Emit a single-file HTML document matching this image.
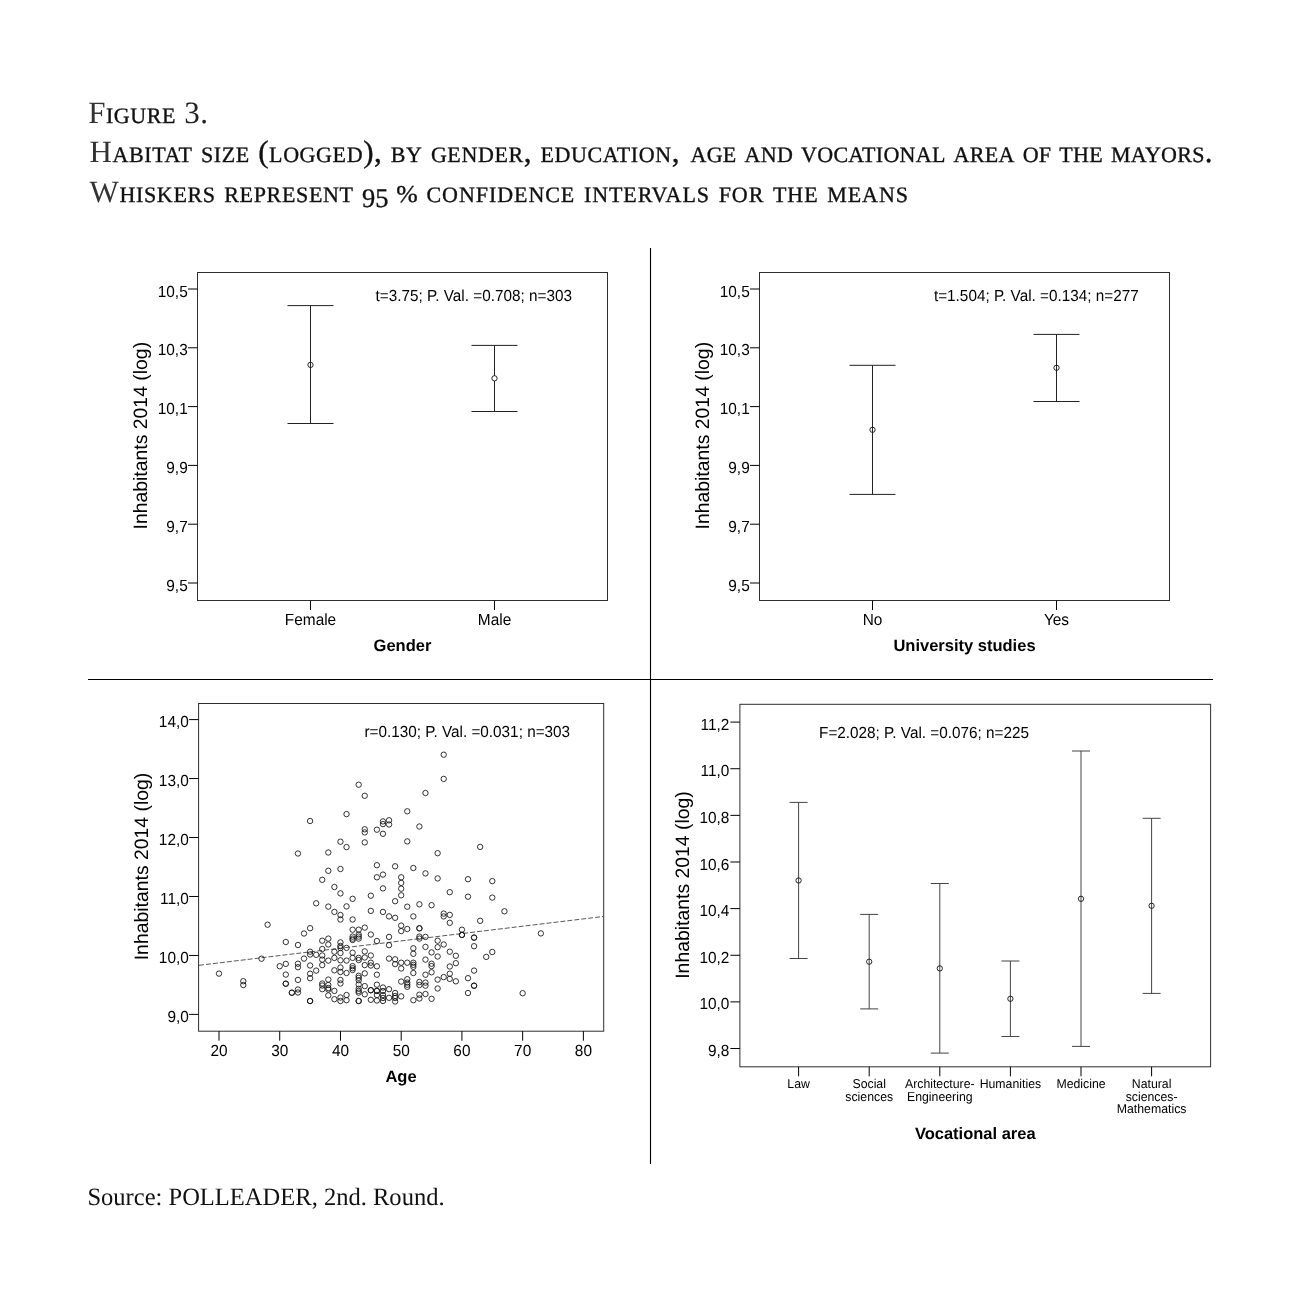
<!DOCTYPE html>
<html lang="en"><head><meta charset="utf-8"><title>Figure 3. Habitat size by gender, education, age and vocational area of the mayors</title>
<style>
html,body{margin:0;padding:0;background:#fff;}
body{width:1302px;height:1309px;overflow:hidden;position:relative;}
svg{position:absolute;left:0;top:0;display:block;text-rendering:geometricPrecision;}
</style></head><body>
<svg width="1302" height="1309" viewBox="0 0 1302 1309">
<rect width="1302" height="1309" fill="#fff"/>
<g font-family="'Liberation Serif', 'Times New Roman', serif" fill="#111" stroke="#111" stroke-width="0.35" style="font-variant: small-caps">
<text x="88.2" y="123" font-size="31" textLength="119.8" lengthAdjust="spacing"><tspan stroke-width="0" fill="#333">F</tspan>igure <tspan stroke-width="0" fill="#222">3.</tspan></text>
<text x="89.5" y="162" font-size="31" textLength="590" lengthAdjust="spacing"><tspan stroke-width="0" fill="#333">H</tspan>abitat size (logged), by gender, education,</text>
<text x="690.5" y="162" font-size="31" textLength="522" lengthAdjust="spacing">age and vocational area of the mayors.</text>
<text x="89.5" y="201.5" font-size="31" textLength="263.5" lengthAdjust="spacing"><tspan stroke-width="0" fill="#333">W</tspan>hiskers represent</text>
<text x="362" y="207" font-size="27" textLength="26.5" lengthAdjust="spacingAndGlyphs">95</text>
<text x="396.3" y="201.5" font-size="24" textLength="21.5" lengthAdjust="spacingAndGlyphs">%</text>
<text x="426.5" y="201.5" font-size="31" textLength="481.5" lengthAdjust="spacing">confidence intervals for the means</text>
</g>
<text x="87.4" y="1205" font-size="25" font-family="'Liberation Serif', 'Times New Roman', serif" fill="#111" textLength="357.2" lengthAdjust="spacingAndGlyphs">Source: POLLEADER, 2nd. Round.</text>
<line x1="650.5" y1="248" x2="650.5" y2="1164" stroke="#000" stroke-width="1.1" />
<line x1="88" y1="679.5" x2="1213" y2="679.5" stroke="#000" stroke-width="1.1" />
<rect x="197.5" y="272.5" width="410" height="328" fill="none" stroke="#2e2e2e" stroke-width="1"/>
<line x1="188" y1="289" x2="197.5" y2="289" stroke="#000" stroke-width="1" />
<text transform="translate(187.7,296.6) scale(1,1.05)" font-size="15.4" text-anchor="end" font-family="'Liberation Sans', Arial, Helvetica, sans-serif" >10,5</text>
<line x1="188" y1="347.8" x2="197.5" y2="347.8" stroke="#000" stroke-width="1" />
<text transform="translate(187.7,355.4) scale(1,1.05)" font-size="15.4" text-anchor="end" font-family="'Liberation Sans', Arial, Helvetica, sans-serif" >10,3</text>
<line x1="188" y1="406.6" x2="197.5" y2="406.6" stroke="#000" stroke-width="1" />
<text transform="translate(187.7,414.2) scale(1,1.05)" font-size="15.4" text-anchor="end" font-family="'Liberation Sans', Arial, Helvetica, sans-serif" >10,1</text>
<line x1="188" y1="465.4" x2="197.5" y2="465.4" stroke="#000" stroke-width="1" />
<text transform="translate(187.7,473) scale(1,1.05)" font-size="15.4" text-anchor="end" font-family="'Liberation Sans', Arial, Helvetica, sans-serif" >9,9</text>
<line x1="188" y1="524.2" x2="197.5" y2="524.2" stroke="#000" stroke-width="1" />
<text transform="translate(187.7,531.8) scale(1,1.05)" font-size="15.4" text-anchor="end" font-family="'Liberation Sans', Arial, Helvetica, sans-serif" >9,7</text>
<line x1="188" y1="583" x2="197.5" y2="583" stroke="#000" stroke-width="1" />
<text transform="translate(187.7,590.6) scale(1,1.05)" font-size="15.4" text-anchor="end" font-family="'Liberation Sans', Arial, Helvetica, sans-serif" >9,5</text>
<line x1="310.5" y1="305.6" x2="310.5" y2="423.5" stroke="#222" stroke-width="1" />
<line x1="287.5" y1="305.6" x2="333.5" y2="305.6" stroke="#222" stroke-width="1" />
<line x1="287.5" y1="423.5" x2="333.5" y2="423.5" stroke="#222" stroke-width="1" />
<circle cx="310.5" cy="364.9" r="2.65" fill="none" stroke="#111" stroke-width="0.9"/>
<line x1="494.5" y1="345.4" x2="494.5" y2="411.5" stroke="#222" stroke-width="1" />
<line x1="471.5" y1="345.4" x2="517.5" y2="345.4" stroke="#222" stroke-width="1" />
<line x1="471.5" y1="411.5" x2="517.5" y2="411.5" stroke="#222" stroke-width="1" />
<circle cx="494.5" cy="378.3" r="2.65" fill="#fff" stroke="#111" stroke-width="0.9"/>
<line x1="310.5" y1="600.5" x2="310.5" y2="610" stroke="#000" stroke-width="1" />
<line x1="494.5" y1="600.5" x2="494.5" y2="610" stroke="#000" stroke-width="1" />
<text transform="translate(310.5,625) scale(1,1.05)" font-size="15.4" text-anchor="middle" font-family="'Liberation Sans', Arial, Helvetica, sans-serif" >Female</text>
<text transform="translate(494.5,625) scale(1,1.05)" font-size="15.4" text-anchor="middle" font-family="'Liberation Sans', Arial, Helvetica, sans-serif" >Male</text>
<text x="402.5" y="651.2" font-size="16.5" text-anchor="middle" font-weight="bold" font-family="'Liberation Sans', Arial, Helvetica, sans-serif" >Gender</text>
<text transform="translate(473.75,301.3) scale(1,1.05)" font-size="15.3" text-anchor="middle" font-family="'Liberation Sans', Arial, Helvetica, sans-serif" >t=3.75; P. Val. =0.708; n=303</text>
<text transform="translate(146.8,435.7) rotate(-90)" x="0" y="0" font-size="19.4" text-anchor="middle" font-family="'Liberation Sans', Arial, Helvetica, sans-serif">Inhabitants 2014 (log)</text>
<rect x="759.5" y="272.5" width="410" height="328" fill="none" stroke="#2e2e2e" stroke-width="1"/>
<line x1="750" y1="289" x2="759.5" y2="289" stroke="#000" stroke-width="1" />
<text transform="translate(749.7,296.6) scale(1,1.05)" font-size="15.4" text-anchor="end" font-family="'Liberation Sans', Arial, Helvetica, sans-serif" >10,5</text>
<line x1="750" y1="347.8" x2="759.5" y2="347.8" stroke="#000" stroke-width="1" />
<text transform="translate(749.7,355.4) scale(1,1.05)" font-size="15.4" text-anchor="end" font-family="'Liberation Sans', Arial, Helvetica, sans-serif" >10,3</text>
<line x1="750" y1="406.6" x2="759.5" y2="406.6" stroke="#000" stroke-width="1" />
<text transform="translate(749.7,414.2) scale(1,1.05)" font-size="15.4" text-anchor="end" font-family="'Liberation Sans', Arial, Helvetica, sans-serif" >10,1</text>
<line x1="750" y1="465.4" x2="759.5" y2="465.4" stroke="#000" stroke-width="1" />
<text transform="translate(749.7,473) scale(1,1.05)" font-size="15.4" text-anchor="end" font-family="'Liberation Sans', Arial, Helvetica, sans-serif" >9,9</text>
<line x1="750" y1="524.2" x2="759.5" y2="524.2" stroke="#000" stroke-width="1" />
<text transform="translate(749.7,531.8) scale(1,1.05)" font-size="15.4" text-anchor="end" font-family="'Liberation Sans', Arial, Helvetica, sans-serif" >9,7</text>
<line x1="750" y1="583" x2="759.5" y2="583" stroke="#000" stroke-width="1" />
<text transform="translate(749.7,590.6) scale(1,1.05)" font-size="15.4" text-anchor="end" font-family="'Liberation Sans', Arial, Helvetica, sans-serif" >9,5</text>
<line x1="872.5" y1="365.3" x2="872.5" y2="494.4" stroke="#222" stroke-width="1" />
<line x1="849.5" y1="365.3" x2="895.5" y2="365.3" stroke="#222" stroke-width="1" />
<line x1="849.5" y1="494.4" x2="895.5" y2="494.4" stroke="#222" stroke-width="1" />
<circle cx="872.5" cy="429.8" r="2.65" fill="none" stroke="#111" stroke-width="0.9"/>
<line x1="1056.5" y1="334.4" x2="1056.5" y2="401.5" stroke="#222" stroke-width="1" />
<line x1="1033.5" y1="334.4" x2="1079.5" y2="334.4" stroke="#222" stroke-width="1" />
<line x1="1033.5" y1="401.5" x2="1079.5" y2="401.5" stroke="#222" stroke-width="1" />
<circle cx="1056.5" cy="367.8" r="2.65" fill="none" stroke="#111" stroke-width="0.9"/>
<line x1="872.5" y1="600.5" x2="872.5" y2="610" stroke="#000" stroke-width="1" />
<line x1="1056.5" y1="600.5" x2="1056.5" y2="610" stroke="#000" stroke-width="1" />
<text transform="translate(872.5,625) scale(1,1.05)" font-size="15.4" text-anchor="middle" font-family="'Liberation Sans', Arial, Helvetica, sans-serif" >No</text>
<text transform="translate(1056.5,625) scale(1,1.05)" font-size="15.4" text-anchor="middle" font-family="'Liberation Sans', Arial, Helvetica, sans-serif" >Yes</text>
<text x="964.5" y="651.2" font-size="16.5" text-anchor="middle" font-weight="bold" font-family="'Liberation Sans', Arial, Helvetica, sans-serif" >University studies</text>
<text transform="translate(1036.35,301.3) scale(1,1.05)" font-size="15.3" text-anchor="middle" font-family="'Liberation Sans', Arial, Helvetica, sans-serif" >t=1.504; P. Val. =0.134; n=277</text>
<text transform="translate(708.8,435.7) rotate(-90)" x="0" y="0" font-size="19.4" text-anchor="middle" font-family="'Liberation Sans', Arial, Helvetica, sans-serif">Inhabitants 2014 (log)</text>
<rect x="198.6" y="703.5" width="405.1" height="327.7" fill="none" stroke="#2e2e2e" stroke-width="1"/>
<line x1="189.1" y1="719.6" x2="198.6" y2="719.6" stroke="#000" stroke-width="1" />
<text transform="translate(188.8,727.2) scale(1,1.05)" font-size="15.4" text-anchor="end" font-family="'Liberation Sans', Arial, Helvetica, sans-serif" >14,0</text>
<line x1="189.1" y1="778.56" x2="198.6" y2="778.56" stroke="#000" stroke-width="1" />
<text transform="translate(188.8,786.16) scale(1,1.05)" font-size="15.4" text-anchor="end" font-family="'Liberation Sans', Arial, Helvetica, sans-serif" >13,0</text>
<line x1="189.1" y1="837.52" x2="198.6" y2="837.52" stroke="#000" stroke-width="1" />
<text transform="translate(188.8,845.12) scale(1,1.05)" font-size="15.4" text-anchor="end" font-family="'Liberation Sans', Arial, Helvetica, sans-serif" >12,0</text>
<line x1="189.1" y1="896.48" x2="198.6" y2="896.48" stroke="#000" stroke-width="1" />
<text transform="translate(188.8,904.08) scale(1,1.05)" font-size="15.4" text-anchor="end" font-family="'Liberation Sans', Arial, Helvetica, sans-serif" >11,0</text>
<line x1="189.1" y1="955.44" x2="198.6" y2="955.44" stroke="#000" stroke-width="1" />
<text transform="translate(188.8,963.04) scale(1,1.05)" font-size="15.4" text-anchor="end" font-family="'Liberation Sans', Arial, Helvetica, sans-serif" >10,0</text>
<line x1="189.1" y1="1014.4" x2="198.6" y2="1014.4" stroke="#000" stroke-width="1" />
<text transform="translate(188.8,1022) scale(1,1.05)" font-size="15.4" text-anchor="end" font-family="'Liberation Sans', Arial, Helvetica, sans-serif" >9,0</text>
<line x1="219" y1="1031.2" x2="219" y2="1040.7" stroke="#000" stroke-width="1" />
<line x1="279.73" y1="1031.2" x2="279.73" y2="1040.7" stroke="#000" stroke-width="1" />
<line x1="340.46" y1="1031.2" x2="340.46" y2="1040.7" stroke="#000" stroke-width="1" />
<line x1="401.19" y1="1031.2" x2="401.19" y2="1040.7" stroke="#000" stroke-width="1" />
<line x1="461.92" y1="1031.2" x2="461.92" y2="1040.7" stroke="#000" stroke-width="1" />
<line x1="522.65" y1="1031.2" x2="522.65" y2="1040.7" stroke="#000" stroke-width="1" />
<line x1="583.38" y1="1031.2" x2="583.38" y2="1040.7" stroke="#000" stroke-width="1" />
<text transform="translate(219,1055.7) scale(1,1.05)" font-size="15.4" text-anchor="middle" font-family="'Liberation Sans', Arial, Helvetica, sans-serif" >20</text>
<text transform="translate(279.73,1055.7) scale(1,1.05)" font-size="15.4" text-anchor="middle" font-family="'Liberation Sans', Arial, Helvetica, sans-serif" >30</text>
<text transform="translate(340.46,1055.7) scale(1,1.05)" font-size="15.4" text-anchor="middle" font-family="'Liberation Sans', Arial, Helvetica, sans-serif" >40</text>
<text transform="translate(401.19,1055.7) scale(1,1.05)" font-size="15.4" text-anchor="middle" font-family="'Liberation Sans', Arial, Helvetica, sans-serif" >50</text>
<text transform="translate(461.92,1055.7) scale(1,1.05)" font-size="15.4" text-anchor="middle" font-family="'Liberation Sans', Arial, Helvetica, sans-serif" >60</text>
<text transform="translate(522.65,1055.7) scale(1,1.05)" font-size="15.4" text-anchor="middle" font-family="'Liberation Sans', Arial, Helvetica, sans-serif" >70</text>
<text transform="translate(583.38,1055.7) scale(1,1.05)" font-size="15.4" text-anchor="middle" font-family="'Liberation Sans', Arial, Helvetica, sans-serif" >80</text>
<text x="401" y="1082" font-size="16.5" text-anchor="middle" font-weight="bold" font-family="'Liberation Sans', Arial, Helvetica, sans-serif" >Age</text>
<text transform="translate(467.25,736.8) scale(1,1.05)" font-size="15.3" text-anchor="middle" font-family="'Liberation Sans', Arial, Helvetica, sans-serif" >r=0.130; P. Val. =0.031; n=303</text>
<text transform="translate(148,866.5) rotate(-90)" x="0" y="0" font-size="19.4" text-anchor="middle" font-family="'Liberation Sans', Arial, Helvetica, sans-serif">Inhabitants 2014 (log)</text>
<line x1="199" y1="965.3" x2="603.2" y2="916.5" stroke="#222" stroke-width="0.75" stroke-dasharray="5 2"/>
<g fill="none" stroke="#111" stroke-width="0.85">
<circle cx="219" cy="973.6" r="2.7"/>
<circle cx="243.29" cy="981.2" r="2.7"/>
<circle cx="243.29" cy="985" r="2.7"/>
<circle cx="261.51" cy="958.7" r="2.7"/>
<circle cx="267.58" cy="924.7" r="2.7"/>
<circle cx="279.73" cy="966.2" r="2.7"/>
<circle cx="285.8" cy="942" r="2.7"/>
<circle cx="285.8" cy="963.9" r="2.7"/>
<circle cx="285.8" cy="974.6" r="2.7"/>
<circle cx="285.8" cy="983.7" r="2.7"/>
<circle cx="285.8" cy="983.7" r="2.7"/>
<circle cx="291.88" cy="992.7" r="2.7"/>
<circle cx="291.88" cy="992.7" r="2.7"/>
<circle cx="297.95" cy="853.5" r="2.7"/>
<circle cx="297.95" cy="945" r="2.7"/>
<circle cx="297.95" cy="963.7" r="2.7"/>
<circle cx="297.95" cy="967.2" r="2.7"/>
<circle cx="297.95" cy="979.9" r="2.7"/>
<circle cx="297.95" cy="989.5" r="2.7"/>
<circle cx="297.95" cy="992.5" r="2.7"/>
<circle cx="304.02" cy="933.5" r="2.7"/>
<circle cx="304.02" cy="958.6" r="2.7"/>
<circle cx="310.1" cy="821" r="2.7"/>
<circle cx="310.1" cy="928.2" r="2.7"/>
<circle cx="310.1" cy="951.7" r="2.7"/>
<circle cx="310.1" cy="954.5" r="2.7"/>
<circle cx="310.1" cy="965.5" r="2.7"/>
<circle cx="310.1" cy="973.7" r="2.7"/>
<circle cx="310.1" cy="978.2" r="2.7"/>
<circle cx="310.1" cy="1001" r="2.7"/>
<circle cx="310.1" cy="1001" r="2.7"/>
<circle cx="316.17" cy="903.3" r="2.7"/>
<circle cx="316.17" cy="954.8" r="2.7"/>
<circle cx="316.17" cy="970.6" r="2.7"/>
<circle cx="322.24" cy="879.8" r="2.7"/>
<circle cx="322.24" cy="940.7" r="2.7"/>
<circle cx="322.24" cy="949" r="2.7"/>
<circle cx="322.24" cy="955.5" r="2.7"/>
<circle cx="322.24" cy="959.6" r="2.7"/>
<circle cx="322.24" cy="965.1" r="2.7"/>
<circle cx="322.24" cy="983.5" r="2.7"/>
<circle cx="322.24" cy="985.5" r="2.7"/>
<circle cx="322.24" cy="989.2" r="2.7"/>
<circle cx="328.31" cy="852.5" r="2.7"/>
<circle cx="328.31" cy="870.8" r="2.7"/>
<circle cx="328.31" cy="906.6" r="2.7"/>
<circle cx="328.31" cy="938.6" r="2.7"/>
<circle cx="328.31" cy="944.5" r="2.7"/>
<circle cx="328.31" cy="960.6" r="2.7"/>
<circle cx="328.31" cy="979.6" r="2.7"/>
<circle cx="328.31" cy="985" r="2.7"/>
<circle cx="328.31" cy="988" r="2.7"/>
<circle cx="328.31" cy="989.5" r="2.7"/>
<circle cx="328.31" cy="995.4" r="2.7"/>
<circle cx="334.39" cy="887" r="2.7"/>
<circle cx="334.39" cy="911.9" r="2.7"/>
<circle cx="334.39" cy="951.7" r="2.7"/>
<circle cx="334.39" cy="957.9" r="2.7"/>
<circle cx="334.39" cy="970.3" r="2.7"/>
<circle cx="334.39" cy="990.9" r="2.7"/>
<circle cx="334.39" cy="999.2" r="2.7"/>
<circle cx="340.46" cy="841.7" r="2.7"/>
<circle cx="340.46" cy="869" r="2.7"/>
<circle cx="340.46" cy="893.4" r="2.7"/>
<circle cx="340.46" cy="915" r="2.7"/>
<circle cx="340.46" cy="919.5" r="2.7"/>
<circle cx="340.46" cy="942.4" r="2.7"/>
<circle cx="340.46" cy="946" r="2.7"/>
<circle cx="340.46" cy="948" r="2.7"/>
<circle cx="340.46" cy="953" r="2.7"/>
<circle cx="340.46" cy="960.3" r="2.7"/>
<circle cx="340.46" cy="967.5" r="2.7"/>
<circle cx="340.46" cy="972" r="2.7"/>
<circle cx="340.46" cy="980" r="2.7"/>
<circle cx="340.46" cy="983.5" r="2.7"/>
<circle cx="340.46" cy="997.5" r="2.7"/>
<circle cx="340.46" cy="1001" r="2.7"/>
<circle cx="346.53" cy="814.1" r="2.7"/>
<circle cx="346.53" cy="847.1" r="2.7"/>
<circle cx="346.53" cy="906.4" r="2.7"/>
<circle cx="346.53" cy="947.9" r="2.7"/>
<circle cx="346.53" cy="960.6" r="2.7"/>
<circle cx="346.53" cy="973" r="2.7"/>
<circle cx="346.53" cy="995" r="2.7"/>
<circle cx="346.53" cy="1000.2" r="2.7"/>
<circle cx="352.61" cy="898.8" r="2.7"/>
<circle cx="352.61" cy="919.5" r="2.7"/>
<circle cx="352.61" cy="929.7" r="2.7"/>
<circle cx="352.61" cy="936.6" r="2.7"/>
<circle cx="352.61" cy="938.6" r="2.7"/>
<circle cx="352.61" cy="940" r="2.7"/>
<circle cx="352.61" cy="952.7" r="2.7"/>
<circle cx="352.61" cy="957.9" r="2.7"/>
<circle cx="352.61" cy="966.1" r="2.7"/>
<circle cx="352.61" cy="968.2" r="2.7"/>
<circle cx="352.61" cy="970" r="2.7"/>
<circle cx="358.68" cy="784.7" r="2.7"/>
<circle cx="358.68" cy="929.7" r="2.7"/>
<circle cx="358.68" cy="934.5" r="2.7"/>
<circle cx="358.68" cy="936.6" r="2.7"/>
<circle cx="358.68" cy="938.6" r="2.7"/>
<circle cx="358.68" cy="957.9" r="2.7"/>
<circle cx="358.68" cy="960" r="2.7"/>
<circle cx="358.68" cy="975.8" r="2.7"/>
<circle cx="358.68" cy="977.8" r="2.7"/>
<circle cx="358.68" cy="980.2" r="2.7"/>
<circle cx="358.68" cy="984.4" r="2.7"/>
<circle cx="358.68" cy="988.8" r="2.7"/>
<circle cx="358.68" cy="990.9" r="2.7"/>
<circle cx="358.68" cy="992.6" r="2.7"/>
<circle cx="358.68" cy="1001" r="2.7"/>
<circle cx="358.68" cy="1001" r="2.7"/>
<circle cx="364.75" cy="795.8" r="2.7"/>
<circle cx="364.75" cy="829.3" r="2.7"/>
<circle cx="364.75" cy="832.4" r="2.7"/>
<circle cx="364.75" cy="842.4" r="2.7"/>
<circle cx="364.75" cy="927.6" r="2.7"/>
<circle cx="364.75" cy="951.4" r="2.7"/>
<circle cx="364.75" cy="957.5" r="2.7"/>
<circle cx="364.75" cy="965.1" r="2.7"/>
<circle cx="364.75" cy="973.4" r="2.7"/>
<circle cx="364.75" cy="986.1" r="2.7"/>
<circle cx="364.75" cy="994.3" r="2.7"/>
<circle cx="370.83" cy="895.7" r="2.7"/>
<circle cx="370.83" cy="910.9" r="2.7"/>
<circle cx="370.83" cy="934.5" r="2.7"/>
<circle cx="370.83" cy="955.5" r="2.7"/>
<circle cx="370.83" cy="962.7" r="2.7"/>
<circle cx="370.83" cy="965.5" r="2.7"/>
<circle cx="370.83" cy="990.2" r="2.7"/>
<circle cx="370.83" cy="990.2" r="2.7"/>
<circle cx="370.83" cy="999.8" r="2.7"/>
<circle cx="376.9" cy="829.7" r="2.7"/>
<circle cx="376.9" cy="865.2" r="2.7"/>
<circle cx="376.9" cy="877.3" r="2.7"/>
<circle cx="376.9" cy="941" r="2.7"/>
<circle cx="376.9" cy="966.3" r="2.7"/>
<circle cx="376.9" cy="974.7" r="2.7"/>
<circle cx="376.9" cy="984.7" r="2.7"/>
<circle cx="376.9" cy="990.9" r="2.7"/>
<circle cx="376.9" cy="990.9" r="2.7"/>
<circle cx="376.9" cy="995" r="2.7"/>
<circle cx="376.9" cy="1000.5" r="2.7"/>
<circle cx="382.97" cy="821.4" r="2.7"/>
<circle cx="382.97" cy="824.1" r="2.7"/>
<circle cx="382.97" cy="833.8" r="2.7"/>
<circle cx="382.97" cy="874.6" r="2.7"/>
<circle cx="382.97" cy="888.4" r="2.7"/>
<circle cx="382.97" cy="911.9" r="2.7"/>
<circle cx="382.97" cy="987.5" r="2.7"/>
<circle cx="382.97" cy="991" r="2.7"/>
<circle cx="382.97" cy="995" r="2.7"/>
<circle cx="382.97" cy="998" r="2.7"/>
<circle cx="382.97" cy="1001" r="2.7"/>
<circle cx="389.04" cy="820.3" r="2.7"/>
<circle cx="389.04" cy="824.5" r="2.7"/>
<circle cx="389.04" cy="916.4" r="2.7"/>
<circle cx="389.04" cy="936.9" r="2.7"/>
<circle cx="389.04" cy="945.2" r="2.7"/>
<circle cx="389.04" cy="958.6" r="2.7"/>
<circle cx="389.04" cy="989.2" r="2.7"/>
<circle cx="389.04" cy="997.8" r="2.7"/>
<circle cx="395.12" cy="866.3" r="2.7"/>
<circle cx="395.12" cy="901.2" r="2.7"/>
<circle cx="395.12" cy="917.8" r="2.7"/>
<circle cx="395.12" cy="959.3" r="2.7"/>
<circle cx="395.12" cy="964.1" r="2.7"/>
<circle cx="395.12" cy="993" r="2.7"/>
<circle cx="395.12" cy="996" r="2.7"/>
<circle cx="395.12" cy="998" r="2.7"/>
<circle cx="395.12" cy="1001.5" r="2.7"/>
<circle cx="401.19" cy="877.3" r="2.7"/>
<circle cx="401.19" cy="882.9" r="2.7"/>
<circle cx="401.19" cy="888.7" r="2.7"/>
<circle cx="401.19" cy="895.3" r="2.7"/>
<circle cx="401.19" cy="925.6" r="2.7"/>
<circle cx="401.19" cy="931.1" r="2.7"/>
<circle cx="401.19" cy="962.7" r="2.7"/>
<circle cx="401.19" cy="968.5" r="2.7"/>
<circle cx="401.19" cy="981.6" r="2.7"/>
<circle cx="401.19" cy="996.4" r="2.7"/>
<circle cx="407.26" cy="811.3" r="2.7"/>
<circle cx="407.26" cy="841.4" r="2.7"/>
<circle cx="407.26" cy="906.7" r="2.7"/>
<circle cx="407.26" cy="929" r="2.7"/>
<circle cx="407.26" cy="962.7" r="2.7"/>
<circle cx="407.26" cy="979.2" r="2.7"/>
<circle cx="407.26" cy="982.6" r="2.7"/>
<circle cx="407.26" cy="984.7" r="2.7"/>
<circle cx="407.26" cy="986.8" r="2.7"/>
<circle cx="413.34" cy="868" r="2.7"/>
<circle cx="413.34" cy="916.4" r="2.7"/>
<circle cx="413.34" cy="948.3" r="2.7"/>
<circle cx="413.34" cy="953.8" r="2.7"/>
<circle cx="413.34" cy="962.7" r="2.7"/>
<circle cx="413.34" cy="964.8" r="2.7"/>
<circle cx="413.34" cy="966.8" r="2.7"/>
<circle cx="413.34" cy="973" r="2.7"/>
<circle cx="413.34" cy="1000.2" r="2.7"/>
<circle cx="419.41" cy="826.5" r="2.7"/>
<circle cx="419.41" cy="904.3" r="2.7"/>
<circle cx="419.41" cy="928.3" r="2.7"/>
<circle cx="419.41" cy="928.3" r="2.7"/>
<circle cx="419.41" cy="936.6" r="2.7"/>
<circle cx="419.41" cy="938.6" r="2.7"/>
<circle cx="419.41" cy="982" r="2.7"/>
<circle cx="419.41" cy="985" r="2.7"/>
<circle cx="419.41" cy="994.7" r="2.7"/>
<circle cx="419.41" cy="998.5" r="2.7"/>
<circle cx="425.48" cy="793" r="2.7"/>
<circle cx="425.48" cy="873.4" r="2.7"/>
<circle cx="425.48" cy="936.9" r="2.7"/>
<circle cx="425.48" cy="946.9" r="2.7"/>
<circle cx="425.48" cy="959.6" r="2.7"/>
<circle cx="425.48" cy="974.7" r="2.7"/>
<circle cx="425.48" cy="982.6" r="2.7"/>
<circle cx="425.48" cy="985.7" r="2.7"/>
<circle cx="425.48" cy="994" r="2.7"/>
<circle cx="431.56" cy="905.2" r="2.7"/>
<circle cx="431.56" cy="952.4" r="2.7"/>
<circle cx="431.56" cy="963.7" r="2.7"/>
<circle cx="431.56" cy="966.1" r="2.7"/>
<circle cx="431.56" cy="972.3" r="2.7"/>
<circle cx="431.56" cy="998.8" r="2.7"/>
<circle cx="437.63" cy="853.2" r="2.7"/>
<circle cx="437.63" cy="878.4" r="2.7"/>
<circle cx="437.63" cy="940.7" r="2.7"/>
<circle cx="437.63" cy="947.2" r="2.7"/>
<circle cx="437.63" cy="956.5" r="2.7"/>
<circle cx="437.63" cy="979.6" r="2.7"/>
<circle cx="437.63" cy="988.5" r="2.7"/>
<circle cx="443.7" cy="754.7" r="2.7"/>
<circle cx="443.7" cy="778.9" r="2.7"/>
<circle cx="443.7" cy="913.6" r="2.7"/>
<circle cx="443.7" cy="916.4" r="2.7"/>
<circle cx="443.7" cy="944.5" r="2.7"/>
<circle cx="443.7" cy="977.1" r="2.7"/>
<circle cx="449.77" cy="892.2" r="2.7"/>
<circle cx="449.77" cy="914.9" r="2.7"/>
<circle cx="449.77" cy="922.8" r="2.7"/>
<circle cx="449.77" cy="951.7" r="2.7"/>
<circle cx="449.77" cy="966.5" r="2.7"/>
<circle cx="449.77" cy="973.7" r="2.7"/>
<circle cx="449.77" cy="978.9" r="2.7"/>
<circle cx="455.85" cy="955.8" r="2.7"/>
<circle cx="455.85" cy="963.2" r="2.7"/>
<circle cx="455.85" cy="981.3" r="2.7"/>
<circle cx="461.92" cy="929.7" r="2.7"/>
<circle cx="461.92" cy="934.9" r="2.7"/>
<circle cx="461.92" cy="934.9" r="2.7"/>
<circle cx="467.99" cy="879.2" r="2.7"/>
<circle cx="467.99" cy="896.7" r="2.7"/>
<circle cx="467.99" cy="978.2" r="2.7"/>
<circle cx="467.99" cy="993" r="2.7"/>
<circle cx="474.07" cy="937.6" r="2.7"/>
<circle cx="474.07" cy="937.6" r="2.7"/>
<circle cx="474.07" cy="946.2" r="2.7"/>
<circle cx="474.07" cy="970.6" r="2.7"/>
<circle cx="474.07" cy="985.7" r="2.7"/>
<circle cx="474.07" cy="985.7" r="2.7"/>
<circle cx="480.14" cy="846.9" r="2.7"/>
<circle cx="480.14" cy="920.8" r="2.7"/>
<circle cx="486.21" cy="956.9" r="2.7"/>
<circle cx="492.29" cy="881.1" r="2.7"/>
<circle cx="492.29" cy="897.6" r="2.7"/>
<circle cx="492.29" cy="952" r="2.7"/>
<circle cx="504.43" cy="911.3" r="2.7"/>
<circle cx="522.65" cy="993.2" r="2.7"/>
<circle cx="540.87" cy="933.4" r="2.7"/>
</g>
<rect x="739.9" y="704.3" width="470.7" height="362.5" fill="none" stroke="#2e2e2e" stroke-width="1"/>
<line x1="730.4" y1="722.1" x2="739.9" y2="722.1" stroke="#000" stroke-width="1" />
<text transform="translate(729.4,729.7) scale(1,1.05)" font-size="15.4" text-anchor="end" font-family="'Liberation Sans', Arial, Helvetica, sans-serif" >11,2</text>
<line x1="730.4" y1="768.73" x2="739.9" y2="768.73" stroke="#000" stroke-width="1" />
<text transform="translate(729.4,776.33) scale(1,1.05)" font-size="15.4" text-anchor="end" font-family="'Liberation Sans', Arial, Helvetica, sans-serif" >11,0</text>
<line x1="730.4" y1="815.36" x2="739.9" y2="815.36" stroke="#000" stroke-width="1" />
<text transform="translate(729.4,822.96) scale(1,1.05)" font-size="15.4" text-anchor="end" font-family="'Liberation Sans', Arial, Helvetica, sans-serif" >10,8</text>
<line x1="730.4" y1="861.99" x2="739.9" y2="861.99" stroke="#000" stroke-width="1" />
<text transform="translate(729.4,869.59) scale(1,1.05)" font-size="15.4" text-anchor="end" font-family="'Liberation Sans', Arial, Helvetica, sans-serif" >10,6</text>
<line x1="730.4" y1="908.62" x2="739.9" y2="908.62" stroke="#000" stroke-width="1" />
<text transform="translate(729.4,916.22) scale(1,1.05)" font-size="15.4" text-anchor="end" font-family="'Liberation Sans', Arial, Helvetica, sans-serif" >10,4</text>
<line x1="730.4" y1="955.25" x2="739.9" y2="955.25" stroke="#000" stroke-width="1" />
<text transform="translate(729.4,962.85) scale(1,1.05)" font-size="15.4" text-anchor="end" font-family="'Liberation Sans', Arial, Helvetica, sans-serif" >10,2</text>
<line x1="730.4" y1="1001.88" x2="739.9" y2="1001.88" stroke="#000" stroke-width="1" />
<text transform="translate(729.4,1009.48) scale(1,1.05)" font-size="15.4" text-anchor="end" font-family="'Liberation Sans', Arial, Helvetica, sans-serif" >10,0</text>
<line x1="730.4" y1="1048.51" x2="739.9" y2="1048.51" stroke="#000" stroke-width="1" />
<text transform="translate(729.4,1056.11) scale(1,1.05)" font-size="15.4" text-anchor="end" font-family="'Liberation Sans', Arial, Helvetica, sans-serif" >9,8</text>
<line x1="798.6" y1="802.4" x2="798.6" y2="958.5" stroke="#444" stroke-width="1" />
<line x1="789.6" y1="802.4" x2="807.6" y2="802.4" stroke="#444" stroke-width="1" />
<line x1="789.6" y1="958.5" x2="807.6" y2="958.5" stroke="#444" stroke-width="1" />
<circle cx="798.6" cy="880.5" r="2.65" fill="none" stroke="#111" stroke-width="0.9"/>
<line x1="869.2" y1="914.4" x2="869.2" y2="1008.9" stroke="#444" stroke-width="1" />
<line x1="860.2" y1="914.4" x2="878.2" y2="914.4" stroke="#444" stroke-width="1" />
<line x1="860.2" y1="1008.9" x2="878.2" y2="1008.9" stroke="#444" stroke-width="1" />
<circle cx="869.2" cy="961.7" r="2.65" fill="none" stroke="#111" stroke-width="0.9"/>
<line x1="939.8" y1="883.5" x2="939.8" y2="1053.1" stroke="#444" stroke-width="1" />
<line x1="930.8" y1="883.5" x2="948.8" y2="883.5" stroke="#444" stroke-width="1" />
<line x1="930.8" y1="1053.1" x2="948.8" y2="1053.1" stroke="#444" stroke-width="1" />
<circle cx="939.8" cy="968.4" r="2.65" fill="none" stroke="#111" stroke-width="0.9"/>
<line x1="1010.4" y1="961" x2="1010.4" y2="1036.5" stroke="#444" stroke-width="1" />
<line x1="1001.4" y1="961" x2="1019.4" y2="961" stroke="#444" stroke-width="1" />
<line x1="1001.4" y1="1036.5" x2="1019.4" y2="1036.5" stroke="#444" stroke-width="1" />
<circle cx="1010.4" cy="998.8" r="2.65" fill="none" stroke="#111" stroke-width="0.9"/>
<line x1="1081" y1="751" x2="1081" y2="1046.4" stroke="#444" stroke-width="1" />
<line x1="1072" y1="751" x2="1090" y2="751" stroke="#444" stroke-width="1" />
<line x1="1072" y1="1046.4" x2="1090" y2="1046.4" stroke="#444" stroke-width="1" />
<circle cx="1081" cy="898.8" r="2.65" fill="none" stroke="#111" stroke-width="0.9"/>
<line x1="1151.6" y1="818.3" x2="1151.6" y2="993.4" stroke="#444" stroke-width="1" />
<line x1="1142.6" y1="818.3" x2="1160.6" y2="818.3" stroke="#444" stroke-width="1" />
<line x1="1142.6" y1="993.4" x2="1160.6" y2="993.4" stroke="#444" stroke-width="1" />
<circle cx="1151.6" cy="905.8" r="2.65" fill="none" stroke="#111" stroke-width="0.9"/>
<line x1="798.6" y1="1066.8" x2="798.6" y2="1076.3" stroke="#000" stroke-width="1" />
<line x1="869.2" y1="1066.8" x2="869.2" y2="1076.3" stroke="#000" stroke-width="1" />
<line x1="939.8" y1="1066.8" x2="939.8" y2="1076.3" stroke="#000" stroke-width="1" />
<line x1="1010.4" y1="1066.8" x2="1010.4" y2="1076.3" stroke="#000" stroke-width="1" />
<line x1="1081" y1="1066.8" x2="1081" y2="1076.3" stroke="#000" stroke-width="1" />
<line x1="1151.6" y1="1066.8" x2="1151.6" y2="1076.3" stroke="#000" stroke-width="1" />
<text transform="translate(798.6,1088) scale(1,1.05)" font-size="12.3" text-anchor="middle" font-family="'Liberation Sans', Arial, Helvetica, sans-serif" >Law</text>
<text transform="translate(869.2,1088) scale(1,1.05)" font-size="12.3" text-anchor="middle" font-family="'Liberation Sans', Arial, Helvetica, sans-serif" >Social</text>
<text transform="translate(869.2,1100.6) scale(1,1.05)" font-size="12.3" text-anchor="middle" font-family="'Liberation Sans', Arial, Helvetica, sans-serif" >sciences</text>
<text transform="translate(939.8,1088) scale(1,1.05)" font-size="12.3" text-anchor="middle" font-family="'Liberation Sans', Arial, Helvetica, sans-serif" >Architecture-</text>
<text transform="translate(939.8,1100.6) scale(1,1.05)" font-size="12.3" text-anchor="middle" font-family="'Liberation Sans', Arial, Helvetica, sans-serif" >Engineering</text>
<text transform="translate(1010.4,1088) scale(1,1.05)" font-size="12.3" text-anchor="middle" font-family="'Liberation Sans', Arial, Helvetica, sans-serif" >Humanities</text>
<text transform="translate(1081,1088) scale(1,1.05)" font-size="12.3" text-anchor="middle" font-family="'Liberation Sans', Arial, Helvetica, sans-serif" >Medicine</text>
<text transform="translate(1151.6,1088) scale(1,1.05)" font-size="12.3" text-anchor="middle" font-family="'Liberation Sans', Arial, Helvetica, sans-serif" >Natural</text>
<text transform="translate(1151.6,1100.6) scale(1,1.05)" font-size="12.3" text-anchor="middle" font-family="'Liberation Sans', Arial, Helvetica, sans-serif" >sciences-</text>
<text transform="translate(1151.6,1113.2) scale(1,1.05)" font-size="12.3" text-anchor="middle" font-family="'Liberation Sans', Arial, Helvetica, sans-serif" >Mathematics</text>
<text x="975.25" y="1139" font-size="16.5" text-anchor="middle" font-weight="bold" font-family="'Liberation Sans', Arial, Helvetica, sans-serif" >Vocational area</text>
<text transform="translate(924,738) scale(1,1.05)" font-size="15.3" text-anchor="middle" font-family="'Liberation Sans', Arial, Helvetica, sans-serif" >F=2.028; P. Val. =0.076; n=225</text>
<text transform="translate(688.8,885) rotate(-90)" x="0" y="0" font-size="19.4" text-anchor="middle" font-family="'Liberation Sans', Arial, Helvetica, sans-serif">Inhabitants 2014 (log)</text>
</svg>
</body></html>
